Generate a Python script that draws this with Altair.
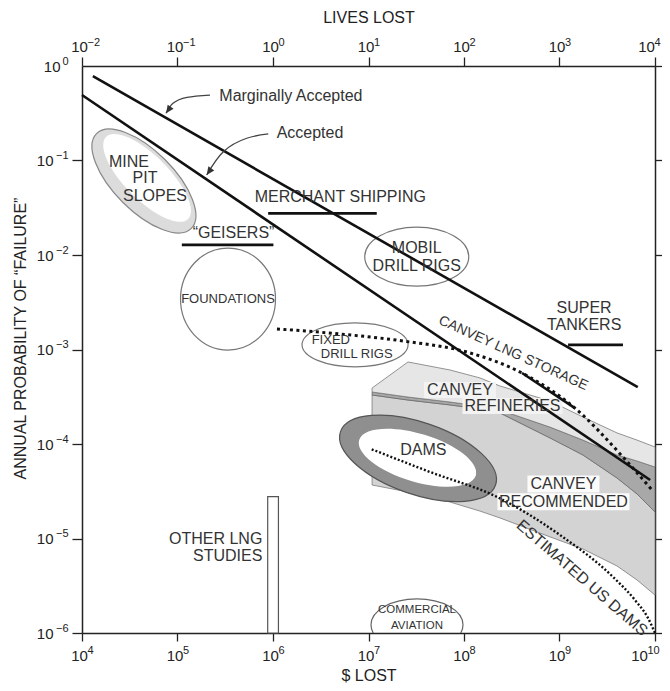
import altair as alt
import pandas as pd

# ---------------- data ----------------
tick_dollars = [1e4, 1e5, 1e6, 1e7, 1e8, 1e9, 1e10]
tick_prob = [1.0, 1e-1, 1e-2, 1e-3, 1e-4, 1e-5, 1e-6]

marg_x = [1.30e4, 6.6e9]
marg_y = [0.78, 4.0e-4]
acc_x = [1.0e4, 8.9e9]
acc_y = [0.493, 4.16e-5]

bar_name = ["MERCHANT SHIPPING", "GEISERS", "SUPER TANKERS"]
bar_x1 = [8.9e5, 1.11e5, 1.23e9]
bar_x2 = [1.22e7, 1.01e6, 4.62e9]
bar_y = [2.76e-2, 1.28e-2, 1.12e-3]

lng_x = [1.10e6, 5.04e6, 2.30e7, 1.07e8, 4.05e8, 1.45e9, 4.62e9, 9.3e9]
lng_y = [1.65e-3, 1.46e-3, 1.23e-3, 9.4e-4, 5.64e-4, 2.40e-4, 7.28e-5, 3.26e-5]
lng_solid_x = [4.05e8, 1.45e9]
lng_solid_y = [5.64e-4, 2.40e-4]

usdams_x = [1.08e7, 4.4e7, 2.22e8, 1.01e9, 3.63e9, 6.17e9, 8.45e9, 1.0e10]
usdams_y = [8.79e-5, 5.06e-5, 2.75e-5, 1.09e-5, 3.92e-6, 2.23e-6, 1.44e-6, 1.0e-6]

other_lng_x = [8.8e5, 1.14e6]
other_lng_y = [2.77e-5, 1.0e-6]

marg_arrow_x = [2.19e5, 1.26e5, 8.97e4, 7.59e4]
marg_arrow_y = [0.493, 0.466, 0.403, 0.316]
acc_arrow_x = [8.93e5, 5.31e5, 3.02e5, 2.02e5]
acc_arrow_y = [0.191, 0.172, 0.124, 0.0703]

# shaded Canvey regions (shared x samples)
region_x = [1.09e7, 2.59e7, 7.14e7, 1.47e8, 2.38e8, 7.95e8, 1.76e9, 4.0e9, 6.48e9, 1.0e10]
refin_top = [3.91e-4, 7.38e-4, 6.07e-4, 5.0e-4, 4.11e-4, 2.85e-4, 1.93e-4, 1.31e-4, 1.10e-4, 9.30e-5]
band_top = [3.55e-4, 3.14e-4, 2.78e-4, 2.52e-4, 2.29e-4, 1.51e-4, 1.10e-4, 7.65e-5, 6.61e-5, 5.71e-5]
recom_top = [3.30e-4, 2.92e-4, 2.59e-4, 2.35e-4, 2.13e-4, 1.16e-4, 7.65e-5, 4.37e-5, 2.96e-5, 1.91e-5]
recom_bot = [3.68e-5, 3.11e-5, 2.43e-5, 1.95e-5, 1.65e-5, 1.04e-5, 7.74e-6, 5.12e-6, 3.64e-6, 2.52e-6]

# ellipses / boxes: centres in data units
shape_name = ["mine_out", "mine_in", "found", "mobil", "fixed", "dams_out", "dams_in", "aviation",
              "box_canvey1", "box_refin", "box_canvey2", "box_recom"]
shape_x = [4.45e4, 4.80e4, 3.38e5, 3.2e7, 7.23e6, 3.3e7, 3.26e7, 3.22e7,
           9.08e7, 3.22e8, 1.10e9, 1.10e9]
shape_y = [6.07e-2, 6.53e-2, 3.42e-3, 9.6e-3, 1.12e-3, 7.05e-5, 7.16e-5, 1.22e-6,
           3.73e-4, 2.52e-4, 3.77e-5, 2.45e-5]

label_text = ["Marginally Accepted", "Accepted", "MINE", "PIT", "SLOPES", "MERCHANT SHIPPING",
              "\u201cGEISERS\u201d", "FOUNDATIONS", "MOBIL", "DRILL RIGS", "FIXED", "DRILL RIGS",
              "SUPER", "TANKERS", "CANVEY LNG STORAGE", "CANVEY", "REFINERIES", "DAMS",
              "CANVEY", "RECOMMENDED", "ESTIMATED US DAMS", "COMMERCIAL", "AVIATION"]
label_x = [1.54e6, 2.44e6, 3.1e4, 4.57e4, 5.81e4, 5.07e6,
           3.86e5, 3.38e5, 3.2e7, 3.2e7, 4.03e6, 7.52e6,
           1.81e9, 1.81e9, 3.28e8, 9.08e7, 3.22e8, 3.75e7,
           1.10e9, 1.10e9, 1.72e9, 3.22e7, 3.22e7]
label_y = [0.482, 0.195, 9.64e-2, 6.53e-2, 4.21e-2, 4.08e-2,
           1.72e-2, 3.42e-3, 1.18e-2, 7.7e-3, 1.26e-3, 8.96e-4,
           2.73e-3, 1.82e-3, 9.12e-4, 3.73e-4, 2.52e-4, 8.64e-5,
           3.77e-5, 2.45e-5, 3.82e-6, 1.75e-6, 1.19e-6]

rlabel_text = ["OTHER LNG", "STUDIES"]
rlabel_x = [7.73e5, 7.73e5]
rlabel_y = [1.0e-5, 6.53e-6]

# ---------------- styles ----------------
label_size = [16, 16, 16, 16, 16, 16, 16, 13, 16, 16, 13, 13, 16, 16, 14, 16, 16, 16, 16, 16, 16, 11.5, 11.5]
label_angle = [0] * 14 + [24.4] + [0] * 5 + [41] + [0, 0]

shape_a = [67, 58, 51, 52, 53, 82, 61, 46, 36, 50, 36, 66]
shape_b = [30, 22, 47.5, 29.5, 22, 36, 24, 26, 8, 8, 8.5, 8.5]
shape_rot = [45, 45, 90, 0, 0, 19, 17, 0, 0, 0, 0, 0]
shape_fill = ["#dcdcdc", "#ffffff", "transparent", "transparent", "transparent", "#8f8f8f", "#ffffff",
              "transparent", "#f3f3f3", "#f3f3f3", "#fbfbfb", "#fbfbfb"]
shape_stroke = ["#888888", "transparent", "#777777", "#777777", "#777777", "#555555", "transparent",
                "#666666", "transparent", "transparent", "transparent", "transparent"]
shape_kind = ["e"] * 8 + ["b"] * 4

FONT = "Liberation Sans"
TXT = "#333333"
AX = "#222222"
C = 0.5523


def ellipse_path(k):
    return (f"M -1 0 C -1 {-C*k:.4f} {-C:.4f} {-k:.4f} 0 {-k:.4f} "
            f"C {C:.4f} {-k:.4f} 1 {-C*k:.4f} 1 0 "
            f"C 1 {C*k:.4f} {C:.4f} {k:.4f} 0 {k:.4f} "
            f"C {-C:.4f} {k:.4f} -1 {C*k:.4f} -1 0 Z")


def box_path(k):
    return f"M -1 {-k:.4f} L 1 {-k:.4f} L 1 {k:.4f} L -1 {k:.4f} Z"


xscale = alt.Scale(type="log", domain=[1e4, 1e10], nice=False)
yscale = alt.Scale(type="log", domain=[1e-6, 1.0], nice=False)


def X(f="x", axis=None):
    return alt.X(f, type="quantitative", scale=xscale, axis=axis)


def Y(f="y", axis=None):
    return alt.Y(f, type="quantitative", scale=yscale, axis=axis)


def exp_expr(shift):
    e = f"(round(log(datum.value)/LN10) - ({shift}))"
    return f"({e} < 0 ? '\u2212' : '') + abs({e})"


base_ax = dict(grid=False, domainColor=AX, tickColor=AX, domainWidth=1.5, tickWidth=1.3,
               labelFont=FONT, labelColor=AX, labelFlush=False, labelOverlap=False,
               titleFont=FONT, titleFontSize=16, titleColor=AX, titleFontWeight="normal")
ten = dict(labelExpr="'10'", labelFontSize=15)
bare = dict(domain=False, ticks=False, tickSize=0, title=None)
inner_ticks = tick_dollars[:-1]
last_tick = tick_dollars[-1:]

x_axes = [
    # bottom: ticks + "10" for all but the rightmost label
    alt.Axis(orient="bottom", values=tick_dollars, tickSize=8, labelPadding=7, labelOffset=-3,
             labelExpr="datum.value >= 1e10 ? '' : '10'", labelFontSize=15,
             title="$ LOST", titleY=42, titleBaseline="middle", **base_ax),
    alt.Axis(orient="bottom", values=inner_ticks, labelExpr=exp_expr(0), labelFontSize=11,
             labelAlign="left", labelOffset=5, labelPadding=11, **bare, **base_ax),
    # rightmost bottom label, pulled in so it stays on the page
    alt.Axis(orient="bottom", values=last_tick, labelPadding=15, labelOffset=-16, **ten, **bare, **base_ax),
    alt.Axis(orient="bottom", values=last_tick, labelExpr=exp_expr(0), labelFontSize=11,
             labelAlign="left", labelOffset=-8, labelPadding=11, **bare, **base_ax),
    # top: lives lost = dollars / 1e6
    alt.Axis(orient="top", values=tick_dollars, tickSize=9, labelPadding=3, labelOffset=-3,
             labelExpr="datum.value >= 1e10 ? '' : '10'", labelFontSize=15,
             title="LIVES LOST", titleY=-49, titleBaseline="middle", **base_ax),
    alt.Axis(orient="top", values=inner_ticks, labelExpr=exp_expr(6), labelFontSize=11,
             labelAlign="left", labelOffset=5, labelPadding=19, **bare, **base_ax),
    alt.Axis(orient="top", values=last_tick, labelPadding=12, labelOffset=-9, **ten, **bare, **base_ax),
    alt.Axis(orient="top", values=last_tick, labelExpr=exp_expr(6), labelFontSize=11,
             labelAlign="left", labelOffset=-1, labelPadding=19, **bare, **base_ax),
]
y_axes = [
    alt.Axis(orient="left", values=tick_prob[1:], tickSize=10, labelPadding=19, labelAlign="right",
             title="ANNUAL PROBABILITY OF \u201cFAILURE\u201d", titleX=-62, titleY=272,
             titleAngle=270, titleBaseline="middle", **ten, **base_ax),
    alt.Axis(orient="left", values=tick_prob[:1], labelPadding=22, labelAlign="right",
             **ten, **bare, **base_ax),
    alt.Axis(orient="left", values=tick_prob, labelExpr=exp_expr(0), labelFontSize=11,
             labelAlign="right", labelPadding=14, labelOffset=-5, **bare, **base_ax),
    alt.Axis(orient="right", values=tick_prob, labels=False, title=None, tickSize=8, **base_ax),
]

axes_df = pd.DataFrame({"x": [1e4, 1e10], "y": [1e-6, 1.0]})
axes_layers = []
for i, xa in enumerate(x_axes):
    ya = y_axes[i] if i < len(y_axes) else None
    axes_layers.append(alt.Chart(axes_df).mark_point(opacity=0).encode(x=X("x", xa), y=Y("y", ya)))

reg_df = pd.DataFrame({"x": region_x, "rt": refin_top, "bt": band_top, "ct": recom_top, "cb": recom_bot})
area_recom = alt.Chart(reg_df).mark_area(color="#d3d3d3", stroke="#7a7a7a", strokeWidth=0.8).encode(
    x=X("x"), y=Y("ct"), y2="cb")
area_band = alt.Chart(reg_df).mark_area(color="#a8a8a8", stroke="#6a6a6a", strokeWidth=0.8).encode(
    x=X("x"), y=Y("bt"), y2="ct")
area_refin = alt.Chart(reg_df).mark_area(color="#e6e6e6", stroke="#7a7a7a", strokeWidth=0.8).encode(
    x=X("x"), y=Y("rt"), y2="bt")

paths = [ellipse_path(b / a) if k == "e" else box_path(b / a)
         for a, b, k in zip(shape_a, shape_b, shape_kind)]
shape_df = pd.DataFrame({
    "name": shape_name, "x": shape_x, "y": shape_y, "path": paths,
    "size": [(2 * a) ** 2 for a in shape_a], "rot": shape_rot,
    "fill": shape_fill, "stroke": shape_stroke, "order": list(range(len(shape_name))),
})
shapes = alt.Chart(shape_df).mark_point(opacity=1, fillOpacity=1, strokeWidth=1.2, clip=True).encode(
    x=X("x"), y=Y("y"),
    shape=alt.Shape("path:N", scale=None),
    size=alt.Size("size:Q", scale=None),
    angle=alt.Angle("rot:Q", scale=None),
    fill=alt.Fill("fill:N", scale=None),
    stroke=alt.Stroke("stroke:N", scale=None),
    order=alt.Order("order:Q"),
)

lines_df = pd.DataFrame({"x": marg_x + acc_x, "y": marg_y + acc_y, "s": ["m", "m", "a", "a"]})
main_lines = alt.Chart(lines_df).mark_line(color="#111111", strokeWidth=2.6).encode(
    x=X("x"), y=Y("y"), detail="s:N")

bars_df = pd.DataFrame({"name": bar_name, "x1": bar_x1, "x2": bar_x2, "y": bar_y})
bars = alt.Chart(bars_df).mark_rule(color="#111111", strokeWidth=2.6).encode(
    x=X("x1"), x2="x2", y=Y("y"))

lng_df = pd.DataFrame({"x": lng_x, "y": lng_y})
lng_line = alt.Chart(lng_df).mark_line(color="#111111", strokeWidth=3, strokeDash=[3, 3.5],
                                       interpolate="monotone").encode(x=X("x"), y=Y("y"))
lng_s_df = pd.DataFrame({"x": lng_solid_x, "y": lng_solid_y})
lng_solid = alt.Chart(lng_s_df).mark_line(color="#111111", strokeWidth=2.6).encode(x=X("x"), y=Y("y"))

usd_df = pd.DataFrame({"x": usdams_x, "y": usdams_y})
usd_line = alt.Chart(usd_df).mark_line(color="#111111", strokeWidth=2.4, strokeDash=[2, 2],
                                       interpolate="monotone").encode(x=X("x"), y=Y("y"))

olng_df = pd.DataFrame({"x1": [other_lng_x[0]], "x2": [other_lng_x[1]],
                        "y1": [other_lng_y[0]], "y2": [other_lng_y[1]]})
olng = alt.Chart(olng_df).mark_rect(fill="#ffffff", stroke="#555555", strokeWidth=1.2).encode(
    x=X("x1"), x2="x2", y=Y("y1"), y2="y2")

arr_df = pd.DataFrame({"x": marg_arrow_x + acc_arrow_x, "y": marg_arrow_y + acc_arrow_y,
                       "s": ["m"] * 4 + ["a"] * 4, "o": list(range(4)) * 2})
arrows = alt.Chart(arr_df).mark_line(color="#444444", strokeWidth=1.3, interpolate="natural").encode(
    x=X("x"), y=Y("y"), detail="s:N", order="o:Q")
head_df = pd.DataFrame({"x": [marg_arrow_x[-1], acc_arrow_x[-1]], "y": [marg_arrow_y[-1], acc_arrow_y[-1]],
                        "rot": [125, 125.5]})
heads = alt.Chart(head_df).mark_point(shape="M 0 0 L -1 -0.45 L -1 0.45 Z", size=256, filled=True,
                                      opacity=1, color="#333333").encode(
    x=X("x"), y=Y("y"), angle=alt.Angle("rot:Q", scale=None))

lab_df = pd.DataFrame({"t": label_text, "x": label_x, "y": label_y, "fs": label_size, "ang": label_angle})
labels = alt.Chart(lab_df).mark_text(font=FONT, color=TXT, align="center", baseline="middle").encode(
    x=X("x"), y=Y("y"), text="t:N",
    size=alt.Size("fs:Q", scale=None), angle=alt.Angle("ang:Q", scale=None))

rlab_df = pd.DataFrame({"t": rlabel_text, "x": rlabel_x, "y": rlabel_y})
rlabels = alt.Chart(rlab_df).mark_text(font=FONT, color=TXT, align="right", baseline="middle",
                                       fontSize=16).encode(x=X("x"), y=Y("y"), text="t:N")

chart = alt.layer(
    *axes_layers, area_recom, area_band, area_refin, shapes, olng,
    main_lines, bars, lng_line, lng_solid, usd_line, arrows, heads, labels, rlabels,
).resolve_axis(x="independent", y="independent").properties(
    width=573, height=567,
    autosize=alt.AutoSizeParams(type="none"),
    padding={"left": 74, "top": 58, "right": 7, "bottom": 50},
).configure_view(stroke=None)

chart.save("out.html", embed_options={"renderer": "svg", "actions": False})
